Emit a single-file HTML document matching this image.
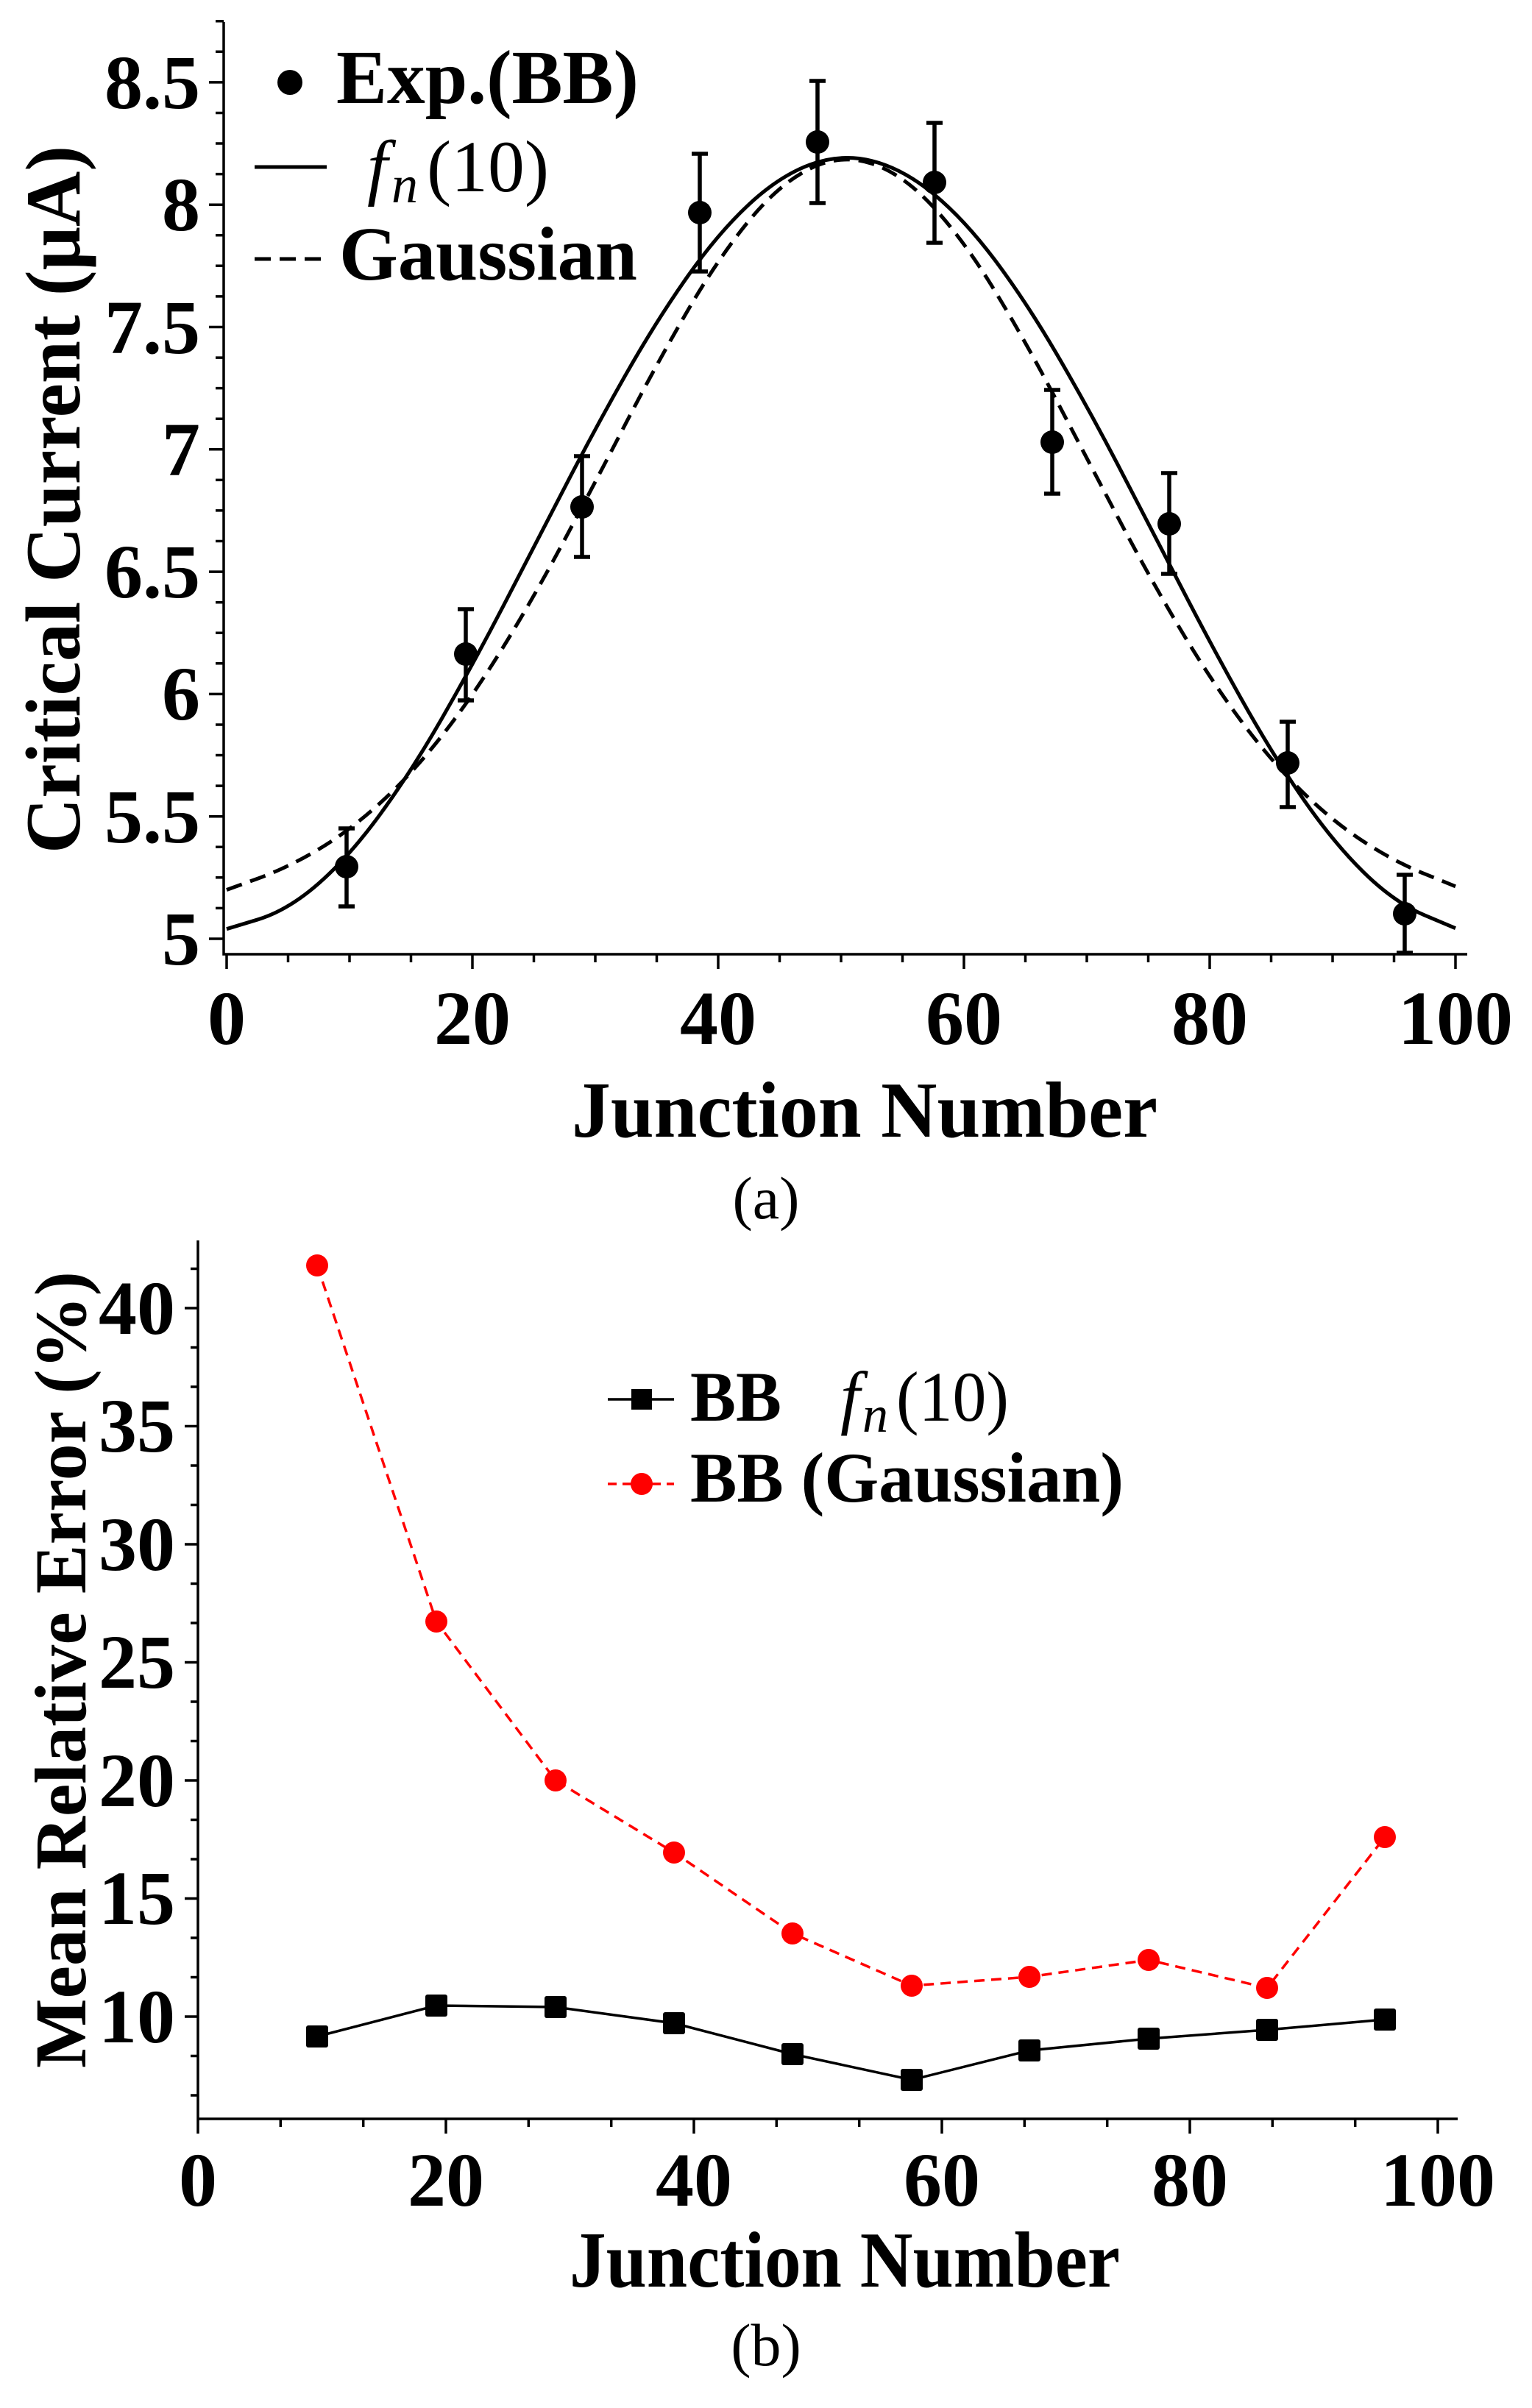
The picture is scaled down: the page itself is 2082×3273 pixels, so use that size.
<!DOCTYPE html>
<html><head><meta charset="utf-8"><style>html,body{margin:0;padding:0;background:#fff}svg{display:block}</style></head>
<body>
<svg width="2082" height="3273" viewBox="0 0 2082 3273" xmlns="http://www.w3.org/2000/svg" font-family="'Liberation Serif', serif">
<rect width="2082" height="3273" fill="#fff"/>
<!-- ===== Plot (a) ===== -->
<g stroke="#000" stroke-width="3.5" fill="none">
<path d="M304 30 V1297 H1994"/>
<path d="M284 1276H304M284 1109.7H304M284 943.4H304M284 777.1H304M284 610.8H304M284 444.5H304M284 278.2H304M284 111.9H304"/>
<path d="M293 1234.4H304M293 1192.8H304M293 1151.3H304M293 1068.1H304M293 1026.5H304M293 985H304M293 901.8H304M293 860.2H304M293 818.7H304M293 735.5H304M293 693.9H304M293 652.4H304M293 569.2H304M293 527.6H304M293 486.1H304M293 402.9H304M293 361.3H304M293 319.8H304M293 236.6H304M293 195H304M293 153.5H304M293 70.3H304M293 28.7H304"/>
<path d="M308 1297V1317M642 1297V1317M976 1297V1317M1310 1297V1317M1644 1297V1317M1978 1297V1317"/>
<path d="M391.5 1297V1308M475 1297V1308M558.5 1297V1308M725.5 1297V1308M809 1297V1308M892.5 1297V1308M1059.5 1297V1308M1143 1297V1308M1226.5 1297V1308M1393.5 1297V1308M1477 1297V1308M1560.5 1297V1308M1727.5 1297V1308M1811 1297V1308M1894.5 1297V1308"/>
</g>
<g font-weight="bold" font-size="104" fill="#000" text-anchor="end">
<text x="272" y="1311">5</text>
<text x="272" y="1145">5.5</text>
<text x="272" y="978">6</text>
<text x="272" y="812">6.5</text>
<text x="272" y="646">7</text>
<text x="272" y="480">7.5</text>
<text x="272" y="313">8</text>
<text x="272" y="147">8.5</text>
</g>
<g font-weight="bold" font-size="104" fill="#000" text-anchor="middle">
<text x="308" y="1419">0</text>
<text x="642" y="1419">20</text>
<text x="976" y="1419">40</text>
<text x="1310" y="1419">60</text>
<text x="1644" y="1419">80</text>
<text x="1978" y="1419">100</text>
</g>
<text x="777" y="1545" font-weight="bold" font-size="108" textLength="796" lengthAdjust="spacingAndGlyphs">Junction Number</text>
<text x="1041" y="1656" font-size="82" text-anchor="middle">(a)</text>
<text transform="translate(108,1160) rotate(-90)" font-weight="bold" font-size="106" textLength="962" lengthAdjust="spacingAndGlyphs">Critical Current (μA)</text>
<!-- curves -->
<path fill="none" stroke="#000" stroke-width="5" d="M308,1262.7 L349.75,1250.05 Q391.5,1237.4 433.25,1200.65 Q475,1163.9 516.75,1106.7 Q558.5,1049.5 600.25,977 Q642,904.5 683.75,824.15 Q725.5,743.8 767.25,662.85 Q809,581.9 850.75,508.55 Q892.5,435.2 934.25,376 Q976,316.8 1017.75,277.9 Q1059.5,239 1101.25,223.7 Q1143,208.4 1184.75,218.7 Q1226.5,229 1268.25,263.25 Q1310,297.5 1351.75,353.05 Q1393.5,408.6 1435.25,479.8 Q1477,551 1518.75,630.95 Q1560.5,710.9 1602.25,792.05 Q1644,873.2 1685.75,947.9 Q1727.5,1022.6 1769.25,1083.3 Q1811,1144 1852.75,1185.2 Q1894.5,1226.4 1936.25,1244.05 L1978,1261.7"/>
<path fill="none" stroke="#000" stroke-width="5" stroke-dasharray="22 12" d="M308,1209.5 L349.75,1194.35 Q391.5,1179.2 433.25,1154.25 Q475,1129.3 516.75,1091.4 Q558.5,1053.5 600.25,1000.45 Q642,947.4 683.75,879.7 Q725.5,812 767.25,733.7 Q809,655.4 850.75,574.9 Q892.5,494.4 934.25,422.7 Q976,351 1017.75,300.15 Q1059.5,249.3 1101.25,229 Q1143,208.7 1184.75,222.35 Q1226.5,236 1268.25,281.2 Q1310,326.4 1351.75,394.95 Q1393.5,463.5 1435.25,543.15 Q1477,622.8 1518.75,702.3 Q1560.5,781.8 1602.25,852.1 Q1644,922.4 1685.75,978.65 Q1727.5,1034.9 1769.25,1075.65 Q1811,1116.4 1852.75,1143.65 Q1894.5,1170.9 1936.25,1187.85 L1978,1204.8"/>
<!-- error bars -->
<g stroke="#000" stroke-width="5.5">
<path d="M471 1126V1232M460 1126H482M460 1232H482"/>
<path d="M633 828V952M622 828H644M622 952H644"/>
<path d="M791 620V757M780 620H802M780 757H802"/>
<path d="M951 209V369M940 209H962M940 369H962"/>
<path d="M1111 110V276M1100 110H1122M1100 276H1122"/>
<path d="M1270 167V330M1259 167H1281M1259 330H1281"/>
<path d="M1430 530V671M1419 530H1441M1419 671H1441"/>
<path d="M1589 643V780M1578 643H1600M1578 780H1600"/>
<path d="M1750 981V1097M1739 981H1761M1739 1097H1761"/>
<path d="M1909 1189V1295M1898 1189H1920M1898 1295H1920"/>
</g>
<g fill="#000">
<circle cx="471" cy="1178" r="16"/><circle cx="633" cy="889" r="16"/><circle cx="791" cy="689" r="16"/><circle cx="951" cy="289" r="16"/><circle cx="1111" cy="193" r="16"/><circle cx="1270" cy="248" r="16"/><circle cx="1430" cy="601" r="16"/><circle cx="1589" cy="712" r="16"/><circle cx="1750" cy="1037" r="16"/><circle cx="1909" cy="1242" r="16"/>
</g>
<!-- legend a -->
<circle cx="394" cy="112" r="17" fill="#000"/>
<text x="457" y="140" font-weight="bold" font-size="104" textLength="411" lengthAdjust="spacingAndGlyphs">Exp.(BB)</text>
<line x1="346" y1="227" x2="444" y2="227" stroke="#000" stroke-width="5"/>
<text x="499" y="260" font-size="100" font-style="italic">f</text>
<text x="532" y="275" font-size="72" font-style="italic">n</text>
<text x="580" y="260" font-size="100" textLength="166" lengthAdjust="spacingAndGlyphs">(10)</text>
<line x1="346" y1="352" x2="445" y2="352" stroke="#000" stroke-width="5" stroke-dasharray="22 12"/>
<text x="461" y="380" font-weight="bold" font-size="104" textLength="405" lengthAdjust="spacingAndGlyphs">Gaussian</text>

<!-- ===== Plot (b) ===== -->
<g stroke="#000" stroke-width="3.5" fill="none">
<path d="M269 1686 V2900 M269 2880 H1981"/>
<path d="M251 2741H269M251 2580.5H269M251 2420H269M251 2259.5H269M251 2099H269M251 1938.5H269M251 1778H269"/>
<path d="M259 2848H269M259 2794.5H269M259 2687.5H269M259 2634H269M259 2527H269M259 2473.5H269M259 2366.5H269M259 2313H269M259 2206H269M259 2152.5H269M259 2045.5H269M259 1992H269M259 1885H269M259 1831.5H269M259 1724.5H269"/>
<path d="M606 2880V2900M943 2880V2900M1280 2880V2900M1617 2880V2900M1954 2880V2900"/>
<path d="M381.3 2880V2891M493.7 2880V2891M718.3 2880V2891M830.7 2880V2891M1055.3 2880V2891M1167.7 2880V2891M1392.3 2880V2891M1504.7 2880V2891M1729.3 2880V2891M1841.7 2880V2891"/>
</g>
<g font-weight="bold" font-size="104" fill="#000" text-anchor="end">
<text x="238" y="2776">10</text>
<text x="238" y="2615">15</text>
<text x="238" y="2455">20</text>
<text x="238" y="2294">25</text>
<text x="238" y="2134">30</text>
<text x="238" y="1973">35</text>
<text x="238" y="1813">40</text>
</g>
<g font-weight="bold" font-size="104" fill="#000" text-anchor="middle">
<text x="269" y="2998">0</text>
<text x="606" y="2998">20</text>
<text x="943" y="2998">40</text>
<text x="1280" y="2998">60</text>
<text x="1617" y="2998">80</text>
<text x="1954" y="2998">100</text>
</g>
<text x="774" y="3108" font-weight="bold" font-size="108" textLength="748" lengthAdjust="spacingAndGlyphs">Junction Number</text>
<text x="1041" y="3215" font-size="82" text-anchor="middle">(b)</text>
<text transform="translate(116,2811) rotate(-90)" font-weight="bold" font-size="100" textLength="1083" lengthAdjust="spacingAndGlyphs">Mean Relative Error (%)</text>
<polyline fill="none" stroke="#f00" stroke-width="3.5" stroke-dasharray="14 9" points="431,1720 593,2204 755,2420 916,2518 1077,2628 1239,2699 1399,2687 1561,2664 1722,2702 1882,2497"/>
<g fill="#f00">
<circle cx="431" cy="1720" r="15"/><circle cx="593" cy="2204" r="15"/><circle cx="755" cy="2420" r="15"/><circle cx="916" cy="2518" r="15"/><circle cx="1077" cy="2628" r="15"/><circle cx="1239" cy="2699" r="15"/><circle cx="1399" cy="2687" r="15"/><circle cx="1561" cy="2664" r="15"/><circle cx="1722" cy="2702" r="15"/><circle cx="1882" cy="2497" r="15"/>
</g>
<polyline fill="none" stroke="#000" stroke-width="3.5" points="431,2768 593,2726 755,2728 916,2750 1077,2792 1239,2827 1399,2787 1561,2771 1722,2759 1882,2745"/>
<g fill="#000">
<rect x="416" y="2753" width="30" height="30" rx="3"/><rect x="578" y="2711" width="30" height="30" rx="3"/><rect x="740" y="2713" width="30" height="30" rx="3"/><rect x="901" y="2735" width="30" height="30" rx="3"/><rect x="1062" y="2777" width="30" height="30" rx="3"/><rect x="1224" y="2812" width="30" height="30" rx="3"/><rect x="1384" y="2772" width="30" height="30" rx="3"/><rect x="1546" y="2756" width="30" height="30" rx="3"/><rect x="1707" y="2744" width="30" height="30" rx="3"/><rect x="1867" y="2730" width="30" height="30" rx="3"/>
</g>
<!-- legend b -->
<line x1="826" y1="1902" x2="916" y2="1902" stroke="#000" stroke-width="3.5"/>
<rect x="858" y="1888" width="28" height="28" fill="#000"/>
<text x="938" y="1931" font-weight="bold" font-size="96" textLength="124" lengthAdjust="spacingAndGlyphs">BB</text>
<text x="1142" y="1931" font-size="96" font-style="italic">f</text>
<text x="1172" y="1946" font-size="70" font-style="italic">n</text>
<text x="1218" y="1931" font-size="96" textLength="153" lengthAdjust="spacingAndGlyphs">(10)</text>
<line x1="826" y1="2017" x2="916" y2="2017" stroke="#f00" stroke-width="3.5" stroke-dasharray="12 8"/>
<circle cx="872" cy="2017" r="15" fill="#f00"/>
<text x="938" y="2041" font-weight="bold" font-size="96" textLength="589" lengthAdjust="spacingAndGlyphs">BB (Gaussian)</text>
</svg>
</body></html>
